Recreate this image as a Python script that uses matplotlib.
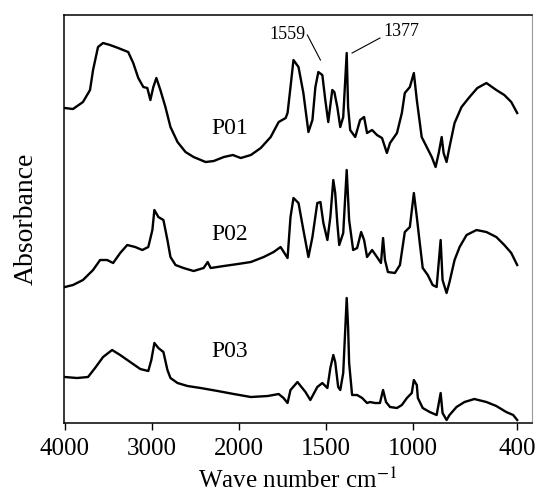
import numpy as np
import matplotlib
matplotlib.use("Agg")
import matplotlib.pyplot as plt

plt.rcParams['font.family'] = ['Liberation Serif', 'DejaVu Serif']
plt.rcParams['mathtext.fontset'] = 'stix'

# FTIR spectra (wavenumber cm-1, absorbance a.u. with offsets)
p01_wn = [4000, 3907, 3792, 3711, 3676, 3619, 3561, 3480, 3387, 3272, 3214, 3156, 3098, 3052,
          3017, 2983, 2948, 2902, 2844, 2786, 2705, 2613, 2520, 2382, 2289, 2173, 2069, 1989,
          1931, 1874, 1817, 1771, 1731, 1720, 1703, 1686, 1657, 1629, 1600, 1577, 1560, 1543,
          1520, 1503, 1486, 1463, 1451, 1434, 1417, 1400, 1380, 1372, 1360, 1331, 1303, 1280,
          1263, 1234, 1206, 1177, 1149, 1131, 1091, 1063, 1046, 1017, 994, 977, 949, 920, 891,
          869, 851, 834, 823, 806, 789, 760, 720, 674, 629, 577, 520, 474, 434, 400]
p01_abs = [3.15, 3.14, 3.21, 3.33, 3.53, 3.76, 3.80, 3.78, 3.75, 3.71, 3.60, 3.45, 3.36, 3.35,
           3.23, 3.36, 3.45, 3.33, 3.16, 2.96, 2.81, 2.71, 2.66, 2.61, 2.62, 2.66, 2.68, 2.65,
           2.68, 2.75, 2.86, 3.01, 3.05, 3.10, 3.36, 3.63, 3.56, 3.30, 2.91, 3.03, 3.36, 3.51,
           3.48, 3.23, 3.01, 3.33, 3.31, 3.16, 2.96, 3.06, 3.70, 3.16, 2.93, 2.86, 3.03, 3.06,
           2.90, 2.93, 2.88, 2.85, 2.70, 2.80, 2.90, 3.10, 3.30, 3.36, 3.50, 3.23, 2.86, 2.76, 2.66,
           2.56, 2.70, 2.86, 2.70, 2.61, 2.76, 3.00, 3.16, 3.26, 3.35, 3.40, 3.33, 3.28, 3.21, 3.10]

p02_wn = [4000, 3907, 3792, 3676, 3595, 3514, 3445, 3364, 3283, 3191, 3110, 3041, 2994, 2971,
          2925, 2867, 2821, 2786, 2728, 2636, 2520, 2405, 2358, 2324, 2173, 2012, 1931, 1857,
          1800, 1760, 1720, 1703, 1686, 1657, 1629, 1600, 1577, 1549, 1531, 1514, 1491, 1474,
          1457, 1446, 1434, 1423, 1400, 1380, 1366, 1343, 1320, 1297, 1280, 1263, 1234, 1206,
          1183, 1171, 1160, 1143, 1103, 1074, 1046, 1017, 994, 977, 960, 943, 914, 886, 863,
          840, 829, 806, 789, 760, 731, 691, 634, 577, 520, 474, 434, 400]
p02_abs = [1.36, 1.38, 1.43, 1.53, 1.63, 1.63, 1.60, 1.70, 1.78, 1.76, 1.73, 1.76, 1.93, 2.13,
           2.06, 2.03, 1.83, 1.66, 1.58, 1.55, 1.52, 1.55, 1.61, 1.55, 1.57, 1.59, 1.61, 1.66,
           1.71, 1.76, 1.65, 2.06, 2.25, 2.20, 1.93, 1.66, 1.86, 2.20, 2.21, 2.00, 1.83, 2.06,
           2.43, 2.30, 2.00, 1.78, 1.90, 2.53, 2.03, 1.73, 1.75, 1.91, 1.83, 1.66, 1.73, 1.66,
           1.60, 1.85, 1.63, 1.51, 1.50, 1.58, 1.91, 1.96, 2.30, 2.06, 1.80, 1.55, 1.48, 1.38, 1.36,
           1.83, 1.43, 1.30, 1.41, 1.63, 1.76, 1.88, 1.93, 1.91, 1.86, 1.78, 1.70, 1.58]

p03_wn = [4000, 3861, 3734, 3653, 3561, 3457, 3364, 3249, 3133, 3041, 3006, 2971, 2925, 2867,
          2821, 2786, 2705, 2590, 2439, 2243, 2058, 1931, 1834, 1771, 1743, 1720, 1703, 1663,
          1617, 1589, 1549, 1520, 1491, 1474, 1457, 1446, 1429, 1417, 1400, 1380, 1372, 1366,
          1349, 1320, 1291, 1263, 1246, 1217, 1189, 1171, 1154, 1131, 1091, 1063, 1034, 1006,
          994, 977, 971, 943, 903, 863, 840, 829, 806, 789, 749, 703, 646, 577, 520, 463, 423, 400]
p03_abs = [0.46, 0.45, 0.46, 0.55, 0.66, 0.73, 0.68, 0.61, 0.54, 0.52, 0.63, 0.80, 0.75, 0.71,
           0.53, 0.45, 0.40, 0.37, 0.35, 0.32, 0.29, 0.26, 0.27, 0.29, 0.25, 0.20, 0.33, 0.41,
           0.31, 0.23, 0.36, 0.40, 0.35, 0.55, 0.68, 0.61, 0.36, 0.33, 0.50, 1.25, 0.96, 0.60,
           0.28, 0.28, 0.25, 0.20, 0.21, 0.20, 0.20, 0.33, 0.21, 0.16, 0.15, 0.18, 0.25, 0.30,
           0.43, 0.38, 0.25, 0.15, 0.11, 0.08, 0.30, 0.10, 0.03, 0.08, 0.16, 0.21, 0.24, 0.21,
           0.17, 0.11, 0.08, 0.03]

tick_vals = [4000, 3000, 2000, 1500, 1000, 400]
labels = ['P01', 'P02', 'P03']


# scale compressed by 2 above 2000 cm-1, like the instrument printout
def fwd(w):
    w = np.asarray(w, dtype=float)
    return np.where(w > 2000, 2000 + (w - 2000) / 2, w)


def inv(u):
    u = np.asarray(u, dtype=float)
    return np.where(u > 2000, 2000 + (u - 2000) * 2, u)


fig = plt.figure(figsize=(5.36, 4.94), dpi=100)
ax = fig.add_axes([0.1194, 0.1437, 0.8731, 0.8259])

for wn, ab in [(p01_wn, p01_abs), (p02_wn, p02_abs), (p03_wn, p03_abs)]:
    ax.plot(wn, ab, color='black', lw=1.7)

ax.set_xscale('function', functions=(fwd, inv))
ax.set_xlim(4010, 315)
ax.set_ylim(0, 4.08)

ax.set_xticks(tick_vals)
ax.set_xticklabels([str(t) for t in tick_vals])
ax.minorticks_off()
ax.tick_params(axis='x', direction='out', length=5, width=1, labelsize=18, pad=6)
ax.set_yticks([])

for s in ['left', 'top', 'bottom']:
    ax.spines[s].set_linewidth(1.1)
ax.spines['right'].set_color('#999999')

ax.set_xlabel(r'Wave number cm$^{-1}$', fontsize=18, labelpad=5)
ax.set_ylabel('Absorbance', fontsize=20, labelpad=18)

ax.text(2110, 2.95, labels[0], fontsize=17, ha='center', va='center')
ax.text(2104, 1.89, labels[1], fontsize=17, ha='center', va='center')
ax.text(2104, 0.72, labels[2], fontsize=17, ha='center', va='center')

ax.text(1617, 3.89, '1559', fontsize=13, ha='right', va='center')
ax.plot([1606, 1531], [3.88, 3.63], color='black', lw=0.8)
ax.text(1171, 3.92, '1377', fontsize=13, ha='left', va='center')
ax.plot([1189, 1349], [3.85, 3.70], color='black', lw=0.8)

fig.savefig('out.png', dpi=100)
